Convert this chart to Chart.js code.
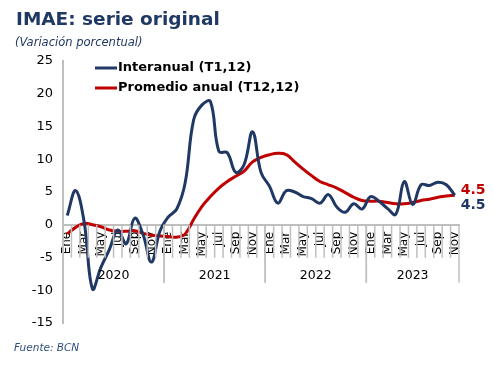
<!DOCTYPE html>
<html>
<head>
<meta charset="utf-8">
<script src="https://cdn.jsdelivr.net/npm/chart.js@4.4.1/dist/chart.umd.min.js"></script>
<style>
  body { margin: 0; background: #fff; }
  #wrap { position: relative; width: 493px; height: 383px; overflow: hidden; }
  #imaeChart { position: absolute; left: 0; top: 0; }
  .title {
    position: absolute; left: 16px; top: 8px;
    font: bold 18.5px "DejaVu Sans", sans-serif; color: #1f3864;
  }
  .subtitle {
    position: absolute; left: 15px; top: 35px;
    font: italic 11.5px "DejaVu Sans", sans-serif; color: #1f3864;
  }
  .source {
    position: absolute; left: 14px; top: 341px;
    font: italic 10.5px "DejaVu Sans", sans-serif; color: #2f4f7f;
  }
</style>
</head>
<body>
<div id="wrap">
  <canvas id="imaeChart" width="493" height="383"></canvas>
  <div class="title">IMAE: serie original</div>
  <div class="subtitle">(Variación porcentual)</div>
  <div class="source">Fuente: BCN</div>
</div>
<script>
const years = ["2020", "2021", "2022", "2023"];
const months = ["Ene", "Feb", "Mar", "Abr", "May", "Jun", "Jul", "Ago", "Sep", "Oct", "Nov", "Dic"];
const shownMonths = ["Ene", "Mar", "May", "Jul", "Sep", "Nov"];

// Interanual (T1,12)
const interanual = [
  1.4, 5.2, 0.5, -9.8, -6.5, -3.8, -0.8, -2.9, 1.0, -1.5, -5.7, -1.0,
  1.2, 2.4, 6.4, 16.0, 18.3, 18.8, 11.2, 11.0, 8.0, 9.2, 14.2, 8.0,
  5.9, 3.3, 5.2, 5.0, 4.3, 4.0, 3.3, 4.6, 2.7, 1.9, 3.2, 2.4,
  4.3, 3.6, 2.5, 1.6, 6.6, 3.1, 6.1, 6.0, 6.5, 6.1, 4.5,
];

// Promedio anual (T12,12)
const promedioAnual = [
  -1.4, -0.4, 0.2, 0.0, -0.3, -0.8, -1.0, -1.0, -0.9, -1.3, -1.6, -1.7,
  -1.8, -1.9, -1.4, 0.8, 2.8, 4.3, 5.6, 6.6, 7.4, 8.2, 9.6, 10.3,
  10.7, 10.9, 10.7, 9.6, 8.5, 7.5, 6.6, 6.1, 5.6, 4.9, 4.2, 3.7,
  3.6, 3.6, 3.4, 3.2, 3.2, 3.4, 3.7, 3.9, 4.2, 4.4, 4.5,
];

const yMin = -15;
const yMax = 25;
const yStep = 5;

document.addEventListener("DOMContentLoaded", function () {
  const labels = [];
  years.forEach((y) => months.forEach((m) => labels.push(m)));
  labels.length = interanual.length;

  const axisColor = "#bfbfbf";

  // Legend drawn inside the plot area
  const insideLegend = {
    id: "insideLegend",
    afterDraw(chart) {
      const c = chart.ctx;
      c.save();
      chart.data.datasets.forEach((ds, i) => {
        const y = 68 + i * 20;
        c.strokeStyle = ds.borderColor;
        c.lineWidth = 3;
        c.beginPath();
        c.moveTo(95, y);
        c.lineTo(117, y);
        c.stroke();
        c.fillStyle = "#000";
        c.font = "bold 13px 'DejaVu Sans'";
        c.textBaseline = "middle";
        c.fillText(ds.label, 118, y);
      });
      c.restore();
    },
  };

  // Value labels at end of lines
  const endLabels = {
    id: "endLabels",
    afterDatasetsDraw(chart) {
      const c = chart.ctx;
      const offsets = [10, -5];
      c.save();
      chart.data.datasets.forEach((ds, i) => {
        const meta = chart.getDatasetMeta(i);
        const pt = meta.data[meta.data.length - 1];
        const v = ds.data[ds.data.length - 1];
        c.fillStyle = ds.borderColor;
        c.font = "bold 14px 'DejaVu Sans'";
        c.textBaseline = "middle";
        c.textAlign = "left";
        c.fillText(v.toFixed(1), pt.x + 6, pt.y + offsets[i]);
      });
      c.restore();
    },
  };

  // Month tick marks, year separators and year labels under the axis
  const yearAxis = {
    id: "yearAxis",
    afterDraw(chart) {
      const x = chart.scales.x;
      const y0 = chart.scales.y.getPixelForValue(0);
      const half = (x.getPixelForValue(1) - x.getPixelForValue(0)) / 2;
      const c = chart.ctx;
      c.save();
      c.strokeStyle = axisColor;
      c.lineWidth = 1.5;
      for (let i = 0; i < labels.length; i++) {
        const px = x.getPixelForValue(i) - half;
        c.beginPath();
        c.moveTo(px, y0);
        c.lineTo(px, y0 + 33);
        c.stroke();
      }
      c.fillStyle = "#000";
      c.font = "12.5px 'DejaVu Sans'";
      c.textAlign = "center";
      c.textBaseline = "middle";
      years.forEach((yr, k) => {
        const first = k * 12;
        const last = Math.min(first + 11, labels.length - 1);
        const xa = x.getPixelForValue(first) - half;
        const xb = x.getPixelForValue(last) + half;
        [xa, xb].forEach((px) => {
          c.beginPath();
          c.moveTo(px, y0);
          c.lineTo(px, y0 + 58);
          c.stroke();
        });
        c.fillText(yr, (xa + xb) / 2, y0 + 51);
      });
      c.restore();
    },
  };

  const ctx = document.getElementById("imaeChart");
  new Chart(ctx, {
    type: "line",
    data: {
      labels: labels,
      datasets: [
        {
          label: "Interanual (T1,12)",
          data: interanual,
          borderColor: "#1f3864",
          borderWidth: 3,
          pointRadius: 0,
          tension: 0.4,
          fill: false,
        },
        {
          label: "Promedio anual (T12,12)",
          data: promedioAnual,
          borderColor: "#c00000",
          borderWidth: 3,
          pointRadius: 0,
          tension: 0.4,
          fill: false,
        },
      ],
    },
    options: {
      responsive: false,
      animation: false,
      layout: {
        padding: { left: 0, top: 61, right: 34, bottom: 60 },
      },
      plugins: {
        legend: { display: false },
        tooltip: { enabled: false },
      },
      scales: {
        x: {
          position: { y: 0 },
          offset: true,
          border: { display: true, color: axisColor, width: 2 },
          grid: { display: false, drawTicks: false, tickLength: 0 },
          ticks: {
            autoSkip: false,
            minRotation: 90,
            maxRotation: 90,
            padding: 7,
            color: "#000",
            font: { family: "DejaVu Sans", size: 12 },
            callback: function (val, index) {
              const m = labels[index];
              return shownMonths.includes(m) ? m : "";
            },
          },
        },
        y: {
          min: yMin,
          max: yMax,
          afterFit: function (scale) {
            scale.width = 63;
          },
          border: { color: axisColor, width: 2 },
          grid: { display: false, drawTicks: false },
          ticks: {
            stepSize: yStep,
            padding: 10,
            color: "#000",
            font: { family: "DejaVu Sans", size: 13 },
          },
        },
      },
    },
    plugins: [insideLegend, endLabels, yearAxis],
  });
});
</script>
</body>
</html>
